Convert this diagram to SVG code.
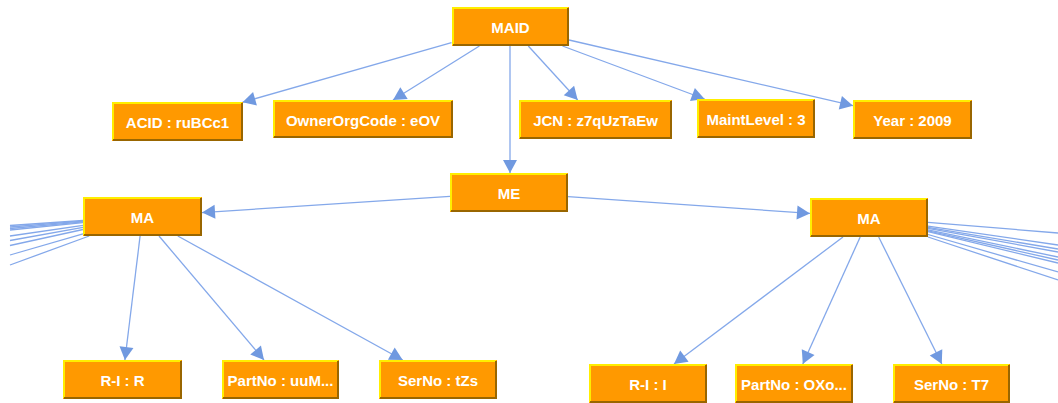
<svg xmlns="http://www.w3.org/2000/svg" width="1058" height="403" viewBox="0 0 1058 403">
<style>
.node rect{fill:#ff9900;}
.node .hi{fill:none;stroke:#ffee00;stroke-width:2;}
.node .lo{fill:none;stroke:#996600;stroke-width:2;}
.node text{font-family:"Liberation Sans",Arial,sans-serif;font-weight:bold;font-size:15px;fill:#ffffff;text-anchor:middle;}
#edges line{stroke:#84a8ea;stroke-width:1.3;fill:none;}
#edges .a{marker-end:url(#arr);}
</style>
<defs>
<marker id="arr" markerUnits="userSpaceOnUse" markerWidth="16" markerHeight="16" viewBox="-14 -8 16 16" refX="0" refY="0" orient="auto">
<path d="M0,0 L-13,-7 L-13,7 z" fill="#7099e0"/>
</marker>
</defs>
<rect width="1058" height="403" fill="#ffffff"/>
<g id="edges">
<line class="a" x1="451.5" y1="42.7" x2="242.5" y2="102.3"/>
<line class="a" x1="479.4" y1="46" x2="393" y2="100"/>
<line class="a" x1="528.3" y1="46" x2="577.7" y2="100"/>
<line class="a" x1="562.5" y1="46" x2="704.6" y2="99"/>
<line class="a" x1="569" y1="40" x2="853" y2="105.7"/>
<line class="a" x1="510" y1="46" x2="510" y2="173"/>
<line class="a" x1="450" y1="196.4" x2="202" y2="212.6"/>
<line class="a" x1="568" y1="196.6" x2="810" y2="213.4"/>
<line class="a" x1="140.1" y1="236" x2="124.9" y2="360"/>
<line class="a" x1="159" y1="236" x2="264" y2="360"/>
<line class="a" x1="177.8" y1="236" x2="402.7" y2="360"/>
<line class="a" x1="843" y1="237" x2="674" y2="364"/>
<line class="a" x1="860.2" y1="237" x2="802.8" y2="364"/>
<line class="a" x1="878.7" y1="237" x2="941.8" y2="364"/>
<line x1="83" y1="220.5" x2="10" y2="225.5"/>
<line x1="83" y1="221.2" x2="10" y2="227"/>
<line x1="83" y1="221.9" x2="10" y2="228.5"/>
<line x1="83" y1="222.6" x2="10" y2="230"/>
<line x1="83" y1="225.3" x2="10" y2="236"/>
<line x1="83" y1="227.3" x2="10" y2="240.5"/>
<line x1="83" y1="229.5" x2="10" y2="245.5"/>
<line x1="83" y1="233.8" x2="10" y2="255"/>
<line x1="89.2" y1="236" x2="10" y2="265"/>
<line x1="928" y1="222.3" x2="1058" y2="233"/>
<line x1="928" y1="226.1" x2="1058" y2="245"/>
<line x1="928" y1="227.3" x2="1058" y2="249"/>
<line x1="928" y1="228.3" x2="1058" y2="252"/>
<line x1="928" y1="229.8" x2="1058" y2="257"/>
<line x1="928" y1="230.8" x2="1058" y2="260"/>
<line x1="928" y1="231.7" x2="1058" y2="263"/>
<line x1="928" y1="234.5" x2="1058" y2="272"/>
<line x1="928" y1="237" x2="1058" y2="280"/>
</g>
<g id="n-maid" class="node"><rect x="452" y="7" width="117" height="39"/><path class="hi" d="M453,45V8H568"/><path class="lo" d="M453,45H568V8"/><text x="510.5" y="33">MAID</text></g>
<g id="n-acid" class="node"><rect x="112" y="102" width="131" height="39"/><path class="hi" d="M113,140V103H242"/><path class="lo" d="M113,140H242V103"/><text x="177.5" y="128">ACID : ruBCc1</text></g>
<g id="n-ownerorgcode" class="node"><rect x="273" y="100" width="180" height="38"/><path class="hi" d="M274,137V101H452"/><path class="lo" d="M274,137H452V101"/><text x="363" y="125.5">OwnerOrgCode : eOV</text></g>
<g id="n-jcn" class="node"><rect x="519" y="100" width="153" height="39"/><path class="hi" d="M520,138V101H671"/><path class="lo" d="M520,138H671V101"/><text x="595.5" y="126">JCN : z7qUzTaEw</text></g>
<g id="n-maintlevel" class="node"><rect x="697" y="99" width="118" height="39"/><path class="hi" d="M698,137V100H814"/><path class="lo" d="M698,137H814V100"/><text x="756" y="125">MaintLevel : 3</text></g>
<g id="n-year" class="node"><rect x="853" y="100" width="119" height="39"/><path class="hi" d="M854,138V101H971"/><path class="lo" d="M854,138H971V101"/><text x="912.5" y="126">Year : 2009</text></g>
<g id="n-me" class="node"><rect x="450" y="173" width="118" height="39"/><path class="hi" d="M451,211V174H567"/><path class="lo" d="M451,211H567V174"/><text x="509" y="199">ME</text></g>
<g id="n-ma-left" class="node"><rect x="83" y="197" width="119" height="39"/><path class="hi" d="M84,235V198H201"/><path class="lo" d="M84,235H201V198"/><text x="142.5" y="223">MA</text></g>
<g id="n-ma-right" class="node"><rect x="810" y="198" width="118" height="39"/><path class="hi" d="M811,236V199H927"/><path class="lo" d="M811,236H927V199"/><text x="869" y="224">MA</text></g>
<g id="n-ri-r" class="node"><rect x="63" y="360" width="119" height="39"/><path class="hi" d="M64,398V361H181"/><path class="lo" d="M64,398H181V361"/><text x="122.5" y="386">R-I : R</text></g>
<g id="n-partno-uum" class="node"><rect x="222" y="360" width="117" height="39"/><path class="hi" d="M223,398V361H338"/><path class="lo" d="M223,398H338V361"/><text x="280.5" y="386">PartNo : uuM...</text></g>
<g id="n-serno-tzs" class="node"><rect x="379" y="360" width="118" height="39"/><path class="hi" d="M380,398V361H496"/><path class="lo" d="M380,398H496V361"/><text x="438" y="386">SerNo : tZs</text></g>
<g id="n-ri-i" class="node"><rect x="589" y="364" width="118" height="39"/><path class="hi" d="M590,402V365H706"/><path class="lo" d="M590,402H706V365"/><text x="648" y="390">R-I : I</text></g>
<g id="n-partno-oxo" class="node"><rect x="735" y="364" width="118" height="39"/><path class="hi" d="M736,402V365H852"/><path class="lo" d="M736,402H852V365"/><text x="794" y="390">PartNo : OXo...</text></g>
<g id="n-serno-t7" class="node"><rect x="893" y="364" width="117" height="39"/><path class="hi" d="M894,402V365H1009"/><path class="lo" d="M894,402H1009V365"/><text x="951.5" y="390">SerNo : T7</text></g>
</svg>
